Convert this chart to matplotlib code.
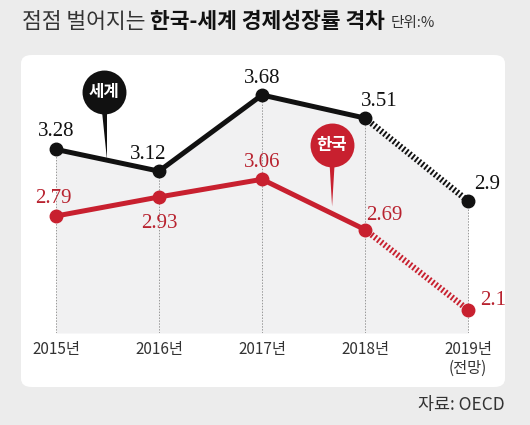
import matplotlib
matplotlib.use("Agg")
import matplotlib.pyplot as plt
from matplotlib.patches import FancyBboxPatch, Polygon

plt.rcParams['font.family'] = ['Noto Sans CJK KR', 'DejaVu Sans']

years = [2015, 2016, 2017, 2018, 2019]
tick_labels = ["2015년", "2016년", "2017년", "2018년", "2019년\n(전망)"]
world = [3.28, 3.12, 3.68, 3.51, 2.9]
korea = [2.79, 2.93, 3.06, 2.69, 2.1]
world_name = "세계"
korea_name = "한국"

BLACK = "#111111"
RED = "#c8202f"
RED_TXT = "#b8222f"
BG = "#ececec"
FILL = "#f1f1f2"
BASE = 1.93

W, H = 530, 425
fig = plt.figure(figsize=(W / 100, H / 100), dpi=100)
fig.patch.set_facecolor(BG)

px = lambda x: x / W
py = lambda y: 1 - y / H

# white panel
panel = FancyBboxPatch((px(21), py(387)), px(505) - px(21), py(55) - py(387),
                       boxstyle="round,pad=0,rounding_size=0.02",
                       transform=fig.transFigure, facecolor="white",
                       edgecolor="none", zorder=-5)
fig.patches.append(panel)

# title
r = fig.canvas.get_renderer()
t1 = fig.text(px(22), py(22), "점점 벌어지는 ", fontsize=15.5, color="#333333",
              va="center", ha="left")
bb = t1.get_window_extent(r)
t2 = fig.text(bb.x1 / W, py(22), "한국-세계 경제성장률 격차", fontsize=15.5,
              color="#111111", fontweight="bold", va="center", ha="left")
bb2 = t2.get_window_extent(r)
fig.text(bb2.x1 / W + px(5), py(23), "단위:%", fontsize=10.5, color="#333333",
         va="center", ha="left")

# source
fig.text(px(505), py(405), "자료: OECD", fontsize=12.5, color="#333333",
         ha="right", va="center")

# axes (bottom = baseline of the shaded area)
ax = fig.add_axes([px(21), py(333), px(505) - px(21), py(55) - py(333)])
ax.set_facecolor("none")
ax.set_xlim(2014.661, 2019.358)
ax.set_ylim(BASE, 3.974)
for s in ax.spines.values():
    s.set_visible(False)
ax.set_yticks([])
ax.set_xticks(years)
ax.set_xticklabels(tick_labels, fontsize=11, color="#333333", linespacing=1.15)
ax.tick_params(axis="x", length=0, pad=6)

# fill under world line
ax.fill_between(years, world, BASE, color=FILL, zorder=1, linewidth=0)

# vertical dotted lines
for x, w in zip(years, world):
    ax.plot([x, x], [BASE, w], color="#999999", lw=0.7,
            linestyle=(0, (1.5, 1.5)), zorder=2)

# world line
ax.plot(years[:4], world[:4], color=BLACK, lw=3.6, zorder=4,
        solid_capstyle="round")
ax.plot(years[3:], world[3:], color=BLACK, lw=4.5, zorder=4,
        linestyle=(0, (0.3, 0.35)), dash_capstyle="butt")
ax.plot(years, world, "o", color=BLACK, ms=9, zorder=5)

# korea line
ax.plot(years[:4], korea[:4], color=RED, lw=3.6, zorder=4,
        solid_capstyle="round")
ax.plot(years[3:], korea[3:], color=RED, lw=4.5, zorder=4,
        linestyle=(0, (0.3, 0.35)), dash_capstyle="butt")
ax.plot(years, korea, "o", color=RED, ms=9, zorder=5)

serif = ["Liberation Serif", "DejaVu Serif"]
w_off = [(0, 6), (-8, 5), (0, 5), (10, 5), (14, 5)]
k_off = [(-2, 6), (0, -26), (0, 5), (14, 3), (18, 0)]
for x, v, (dx, dy) in zip(years, world, w_off):
    ax.annotate(f"{v:g}", (x, v), xytext=(dx, dy), textcoords="offset points",
                ha="center", va="bottom", fontsize=15, color="#111111",
                family=serif, zorder=6)
for x, v, (dx, dy) in zip(years, korea, k_off):
    ax.annotate(f"{v:g}", (x, v), xytext=(dx, dy), textcoords="offset points",
                ha="center", va="bottom", fontsize=15, color=RED_TXT,
                family=serif, zorder=6)

# callout bubbles
def bubble(xc, yc, xt, yt, color, text):
    ax.add_patch(Polygon([[xc - 0.035, yc], [xc + 0.035, yc], [xt, yt]],
                         closed=True, facecolor=color, edgecolor="none", zorder=6))
    ax.scatter([xc], [yc], s=1000, color=color, zorder=7, linewidths=0)
    ax.text(xc, yc, text, color="white", fontsize=12, fontweight="bold",
            ha="center", va="center", zorder=8)

bubble(2015.465, 3.70, 2015.5, 3.20, BLACK, world_name)
bubble(2017.68, 3.31, 2017.68, 2.86, RED, korea_name)

fig.savefig("out.png", dpi=100, facecolor=BG)
